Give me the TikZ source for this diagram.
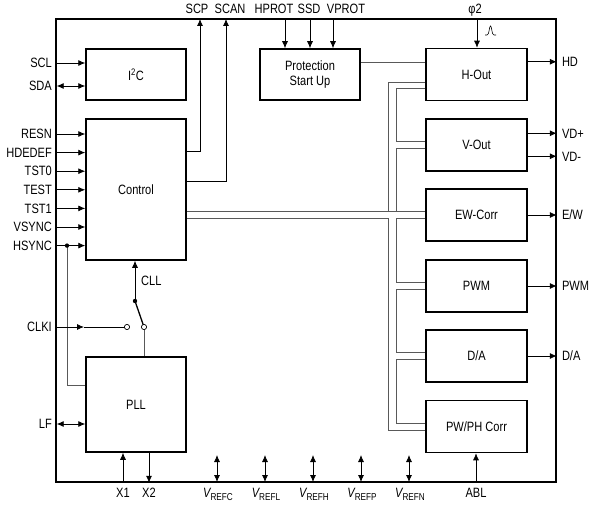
\documentclass[tikz,border=0pt]{standalone}
\usepackage{fontspec}
\setmainfont{Liberation Sans}[FakeStretch=0.82]
\usetikzlibrary{arrows.meta,calc}
\newcommand{\vref}[1]{{\itshape V}\raisebox{-0.35ex}{\fontsize{10}{10}\selectfont REF#1}}

\begin{document}
\begin{tikzpicture}[x=1pt,y=-1pt,
    txt/.style={font=\fontsize{13.5}{15.5}\selectfont},
    blk/.style={txt, draw, line width=1.5pt, minimum width=100pt, inner sep=0pt, align=center},
    pin/.style={txt, inner sep=0pt, text height=9.5pt, text depth=0pt},
    sig/.style={line width=0.8pt, -{Latex[length=7pt,width=6pt]}},
    bid/.style={line width=0.8pt, {Latex[length=7pt,width=6pt]}-{Latex[length=7pt,width=6pt]}},
    bus/.style={line width=0.8pt, draw=black!65}]
    \useasboundingbox (0,0) rectangle (597,511);
    \node[draw, line width=1.6pt, minimum width=500pt, minimum height=463pt, inner sep=0pt] (chip) at (306,250.5) {};

    \node[blk, minimum height=51pt]  (i2c)  at (136,74.5)  {I\textsuperscript{2}C};
    \node[blk, minimum height=141pt] (ctl)  at (136,189.5) {Control};
    \node[blk, minimum height=95pt]  (pll)  at (136,404.5) {PLL};
    \node[blk, minimum height=51pt]  (prot) at (310,74.5)  {Protection\\Start Up};
    \foreach \name/\y/\lbl in {hout/74.5/H-Out, vout/145/V-Out, ewc/215/EW-Corr,
                               pwm/286/PWM, dac/356/{D/A}, pwph/426.5/{PW/PH Corr}}
      \node[blk, minimum width=101pt, minimum height=52pt] (\name) at (476.5,\y) {\lbl};

    % left pins
    \node[pin, anchor=east] (scl) at (52,63) {SCL};
    \node[pin, anchor=east] (sda) at (52,86) {SDA};
    \draw[sig] (scl.east -| chip.west) -- (scl.east -| i2c.west);
    \draw[bid] ($(sda.east -| chip.west)+(1.5,0)$) -- (sda.east -| i2c.west);
    \foreach \lbl [count=\i] in {RESN,HDEDEF,TST0,TEST,TST1,VSYNC,HSYNC} {
      \node[pin, anchor=east] (in\i) at (52,115.4+18.6*\i) {\lbl};
      \draw[sig] (in\i.east -| chip.west) -- (in\i.east -| ctl.west);
    }
    \path (in7.east) ++(15,0) coordinate (hsdot);
    \draw[bus] (hsdot) |- ($(pll.north west)+(0,29)$);
    \fill (hsdot) circle (2.2pt);

    \node[pin, anchor=east] (clki) at (52,327) {CLKI};
    \node[pin, anchor=west] (cll) at (141,281) {CLL};
    \coordinate (swdot) at (135,301);
    \coordinate (swa) at (127,327);
    \coordinate (swb) at (144,327);
    \coordinate (ckmid) at (84,327);
    \draw[sig] (clki.east -| chip.west) -- (ckmid);
    \draw[line width=0.8pt] (ckmid) -- (swa);
    \draw[sig] (swdot) -- (swdot |- ctl.south);
    \draw[line width=1.3pt] (swdot) -- (swb);
    \draw[bus] (swb) -- (swb |- pll.north);
    \fill (swdot) circle (2.2pt);
    \draw[fill=white, line width=0.7pt] (swa) circle (2.6pt) (swb) circle (2.6pt);

    \node[pin, anchor=east] (lf) at (52,424) {LF};
    \draw[bid] ($(lf.east -| chip.west)+(1.5,0)$) -- (lf.east -| pll.west);

    % bottom pins
    \node[pin] (x1) at (123,493) {X1};
    \node[pin] (x2) at (149,493) {X2};
    \draw[sig] (x1.north |- chip.south) -- (x1.north |- pll.south);
    \draw[sig] (x2.north |- pll.south) -- (x2.north |- chip.south);
    \foreach \s/\x in {C/217,L/265,H/313,P/361,N/409} {
      \node[pin] (vr\s) at (\x+1,493) {\vref{\s}};
      \coordinate (vp\s) at (\x,482);
      \draw[bid] (vp\s) -- ++(0,-27);
    }
    \node[pin] (abl) at (476,493) {ABL};
    \draw[sig] (abl.north |- chip.south) -- (abl.north |- pwph.south);

    % top pins
    \node[pin] (scp)   at (197,9) {SCP};
    \node[pin] (scan)  at (230,9) {SCAN};
    \node[pin] (hprot) at (274,9) {HPROT};
    \node[pin] (ssd)   at (309,9) {SSD};
    \node[pin] (vprot) at (346,9) {VPROT};
    \node[pin] (phi)   at (475,9) {φ2};
    \coordinate (scpc)  at (200,19);
    \coordinate (scanc) at (226,19);
    \coordinate (hpc)   at (285,19);
    \coordinate (ssc)   at (310,19);
    \coordinate (vpc)   at (333,19);
    \coordinate (phc)   at (477,19);
    \draw[sig] ($(ctl.north east)+(0,33)$) -| (scpc);
    \draw[sig] ($(ctl.north east)+(0,63)$) -| (scanc);
    \draw[sig] (hpc) -- (hpc |- prot.north);
    \draw[sig] (ssc) -- (ssc |- prot.north);
    \draw[sig] (vpc) -- (vpc |- prot.north);
    \draw[sig] (phc) -- (phc |- hout.north);
    \draw[line width=0.6pt] (485,35) -- (487,35) .. controls (489.5,35) and (489,26) .. (490.5,26)
      .. controls (492,26) and (491.5,35) .. (494,35) -- (496,35);
    \path ($(prot.north east)+(0,14)$) coordinate (prc);
    \draw[bus] (prc) -- (prc -| hout.west);

    % right pins
    \path ($(hout.north east)+(0,14)$) coordinate (hdc)
          ($(vout.north east)+(0,15)$) coordinate (vdpc)
          ($(vout.north east)+(0,38)$) coordinate (vdmc);
    \foreach \c/\lbl in {hdc/HD, vdpc/VD+, vdmc/VD-, ewc.east/{E/W}, pwm.east/PWM, dac.east/{D/A}} {
      \draw[sig] (\c) -- (\c -| chip.east);
      \node[pin, anchor=west] at ($(\c -| chip.east)+(5,0)$) {\lbl};
    }

    % internal bus
    \coordinate (ox) at ($(hout.west)+(-37,0)$);
    \coordinate (ix) at ($(hout.west)+(-29,0)$);
    \coordinate (hout-a) at ($(hout.west)+(0,7.5)$);
    \coordinate (hout-b) at ($(hout.west)+(0,13.5)$);
    \foreach \b in {vout,ewc,pwm,dac,pwph} {
      \coordinate (\b-a) at ($(\b.west)+(0,-3.5)$);
      \coordinate (\b-b) at ($(\b.west)+(0,3.5)$);
    }
    \draw[bus] (ctl.east |- ewc-a) -- (ewc-a);
    \draw[bus] (ox |- ewc-a) |- (hout-a);
    \draw[bus] (ctl.east |- ewc-b) -| (ox |- pwph-b) -- (pwph-b);
    \draw[bus] (hout-b) -| (ix |- vout-a) -- (vout-a);
    \draw[bus] (vout-b) -| (ix |- ewc-a);
    \draw[bus] (ewc-b) -| (ix |- pwm-a) -- (pwm-a);
    \draw[bus] (pwm-b) -| (ix |- dac-a) -- (dac-a);
    \draw[bus] (dac-b) -| (ix |- pwph-a) -- (pwph-a);
\end{tikzpicture}
\end{document}
